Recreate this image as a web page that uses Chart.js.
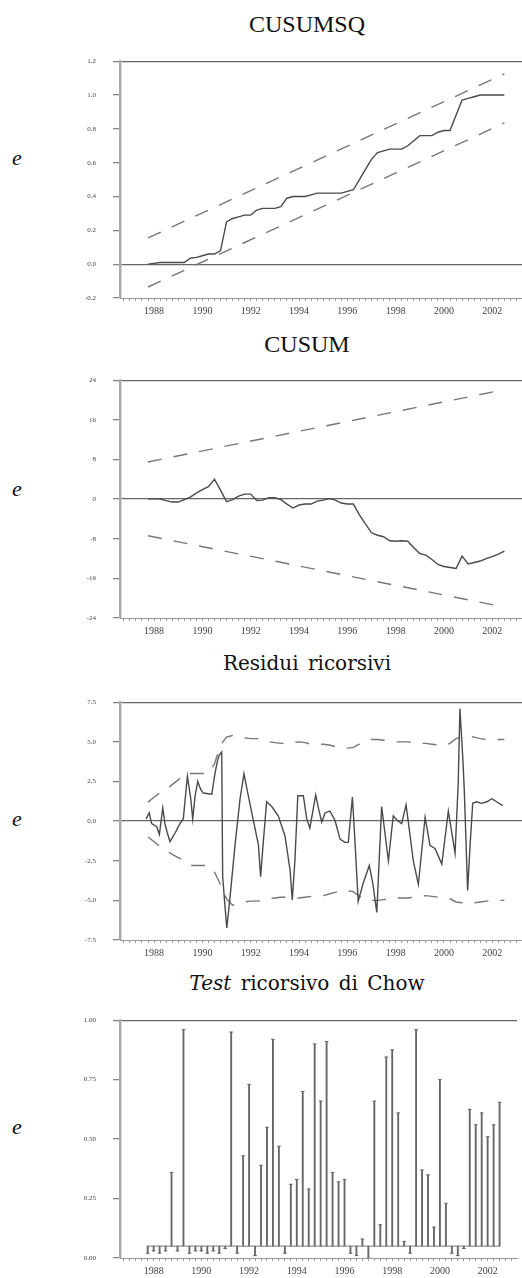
<!DOCTYPE html>
<html>
<head>
<meta charset="utf-8">
<script src="https://cdn.jsdelivr.net/npm/chart.js@4.4.1/dist/chart.umd.min.js"></script>
<style>
  body { margin: 0; width: 522px; height: 1278px; overflow: hidden; background: #fff; position: relative; }
  canvas { position: absolute; left: 0; }
  .title { position: absolute; left: 107px; width: 400px; text-align: center; color: #111; white-space: pre; }
  .t1 { font: 24px/24px "Liberation Serif", serif; }
  .t2 { font: 20px/20px "DejaVu Serif", serif; word-spacing: 3px; }
  .mark { position: absolute; left: 12px; font: italic 22px/22px "Liberation Serif", serif; color: #111; }
</style>
</head>
<body>
<div class="title t1" style="top:12px">CUSUMSQ</div>
<div class="title t1" style="top:332px">CUSUM</div>
<div class="title t2" style="top:653px">Residui ricorsivi</div>
<div class="title t2" style="top:973px"><i>Test</i> ricorsivo di Chow</div>
<div class="mark" style="top:147px">e</div>
<div class="mark" style="top:478px">e</div>
<div class="mark" style="top:808px">e</div>
<div class="mark" style="top:1116px">e</div>

<canvas id="c1" width="522" height="288" style="top:40px"></canvas>
<canvas id="c2" width="522" height="289" style="top:359px"></canvas>
<canvas id="c3" width="522" height="289" style="top:681px"></canvas>
<canvas id="c4" width="522" height="289" style="top:999px"></canvas>

<script>
// quarterly observations 1987Q4 - 2002Q3
const quarters = []
for (let q = 1987.75 * 4; q <= 2002.5 * 4; q++) quarters.push(q / 4)

const cusumsq = [0.00, 0.005, 0.01, 0.01, 0.01, 0.01, 0.01, 0.035, 0.04, 0.05,
  0.06, 0.06, 0.08, 0.25, 0.27, 0.28, 0.29, 0.29, 0.32, 0.33,
  0.33, 0.33, 0.34, 0.39, 0.40, 0.40, 0.40, 0.41, 0.42, 0.42,
  0.42, 0.42, 0.42, 0.43, 0.44, 0.50, 0.56, 0.62, 0.66, 0.67,
  0.68, 0.68, 0.68, 0.70, 0.73, 0.76, 0.76, 0.76, 0.78, 0.79,
  0.79, 0.88, 0.97, 0.98, 0.99, 1.00, 1.00, 1.00, 1.00, 1.00]

const cusum = [0, 0.1, 0, -0.3, -0.6, -0.6, -0.1, 0.4, 1.2, 1.9,
  2.5, 4.0, 1.8, -0.5, -0.1, 0.6, 1.0, 1.0, -0.3, -0.2,
  0.3, 0.3, -0.1, -1.0, -1.8, -1.2, -1.0, -1.0, -0.4, -0.2,
  0.1, -0.2, -0.8, -1.0, -1.0, -3.2, -5.0, -6.8, -7.3, -7.6,
  -8.4, -8.5, -8.4, -8.5, -9.8, -11.0, -11.3, -12.2, -13.2, -13.6,
  -13.8, -14.0, -11.5, -13.1, -12.8, -12.5, -12.0, -11.6, -11.1, -10.5]

// 5% bands, straight lines between first and last quarter
const bandDates = [1987.75, 2002.5]
const cusumsqUpper = [0.155, 1.125]
const cusumsqLower = [-0.135, 0.835]
const cusumUpper = [7.5, 22.1]
const cusumLower = [-7.4, -21.8]

const resDates = [1987.67, 1987.80, 1987.90, 1988.11, 1988.22, 1988.36, 1988.45, 1988.55, 1988.66, 1988.87,
  1989.07, 1989.21, 1989.38, 1989.52, 1989.60, 1989.70, 1989.81, 1989.93, 1990.04, 1990.39,
  1990.52, 1990.62, 1990.70, 1990.80, 1990.84, 1990.94, 1991.01, 1991.14, 1991.35, 1991.56,
  1991.72, 1991.90, 1992.11, 1992.32, 1992.41, 1992.52, 1992.66, 1992.87, 1993.14, 1993.42,
  1993.63, 1993.72, 1993.83, 1993.95, 1994.18, 1994.32, 1994.45, 1994.69, 1994.80, 1994.94,
  1995.08, 1995.28, 1995.49, 1995.70, 1995.90, 1996.04, 1996.21, 1996.29, 1996.45, 1996.66,
  1996.91, 1997.05, 1997.22, 1997.42, 1997.70, 1997.90, 1998.07, 1998.25, 1998.43, 1998.52,
  1998.73, 1998.94, 1999.22, 1999.42, 1999.63, 1999.91, 2000.18, 2000.46, 2000.59, 2000.66,
  2000.78, 2000.84, 2000.98, 2001.08, 2001.19, 2001.35, 2001.56, 2001.77, 2001.98, 2002.18,
  2002.43]
const resValues = [0.14, 0.53, -0.16, -0.35, -0.84, 0.83, -0.16, -0.75, -1.3, -0.75,
  -0.16, 0.14, 2.83, 1.4, 0.14, 1.6, 2.5, 2.0, 1.77, 1.7,
  3.0, 3.77, 4.16, 4.36, -3.5, -5.46, -6.74, -4.87, -1.53, 1.41,
  2.99, 1.6, 0.04, -1.5, -3.5, -1.34, 1.22, 0.92, 0.33, -0.94,
  -3.1, -4.97, -2.5, 1.6, 1.6, 0.14, -0.45, 1.65, 0.83, -0.06,
  0.53, 0.63, 0.04, -1.14, -1.34, -1.34, 1.51, -0.55, -5.07, -3.9,
  -2.8, -3.9, -5.76, 0.92, -2.5, 0.33, 0.04, -0.16, 1.02, 0.0,
  -2.5, -3.99, 0.24, -1.53, -1.73, -2.71, 0.63, -2.02, 2.4, 7.1,
  3.97, 2.0, -4.38, -1.53, 1.12, 1.22, 1.12, 1.22, 1.41, 1.22,
  0.98]

// +/- 2 s.e. around the recursive residuals
const resUpper = [1.2, 1.5, 1.8, 2.0, 2.3, 2.6, 3.0, 3.0, 3.0, 3.0,
  3.0, 3.6, 4.8, 5.3, 5.4, 5.3, 5.25, 5.2, 5.2, 5.2,
  5.0, 4.95, 4.9, 4.9, 4.95, 5.0, 4.95, 4.85, 4.85, 4.85,
  4.8, 4.7, 4.6, 4.6, 4.65, 4.85, 5.05, 5.15, 5.15, 5.1,
  5.05, 5.0, 5.0, 5.0, 4.95, 4.9, 4.9, 4.85, 4.8, 4.75,
  4.9, 5.2, 5.35, 5.35, 5.3, 5.2, 5.15, 5.15, 5.15, 5.15]
const resLower = [-1.0, -1.3, -1.6, -1.85, -2.1, -2.3, -2.5, -2.8, -2.8, -2.8,
  -2.8, -3.2, -4.0, -4.9, -5.3, -5.2, -5.1, -5.05, -5.05, -5.0,
  -4.9, -4.85, -4.8, -4.8, -4.85, -4.85, -4.8, -4.75, -4.75, -4.7,
  -4.6, -4.5, -4.4, -4.4, -4.45, -4.75, -4.95, -5.0, -5.0, -4.95,
  -4.9, -4.85, -4.85, -4.85, -4.8, -4.75, -4.7, -4.75, -4.8, -4.8,
  -4.9, -5.1, -5.15, -5.2, -5.15, -5.1, -5.05, -5.0, -5.0, -5.0]

// recursive Chow test probabilities, drawn from the 5% line
const chowLevel = 0.05
const chowProb = [0.02, 0.03, 0.02, 0.03, 0.36, 0.03, 0.96, 0.02, 0.03, 0.03,
  0.02, 0.03, 0.02, 0.04, 0.95, 0.02, 0.43, 0.73, 0.01, 0.39,
  0.55, 0.92, 0.47, 0.02, 0.31, 0.33, 0.70, 0.29, 0.90, 0.66,
  0.91, 0.36, 0.32, 0.33, 0.02, 0.01, 0.08, 0.00, 0.66, 0.14,
  0.845, 0.875, 0.61, 0.07, 0.02, 0.96, 0.37, 0.35, 0.13, 0.75,
  0.23, 0.02, 0.01, 0.04, 0.625, 0.56, 0.61, 0.51, 0.56, 0.655]

// axis tick positions: one per quarter
const tickYears = []
for (let q = 1986.75 * 4; q <= 2003 * 4; q++) tickYears.push(q / 4)

const LINE = '#4a4a4a'
const DASH = '#777'

function pts(xs, ys) {
  return xs.map((x, i) => ({ x: x, y: ys[i] }))
}

function xAxis() {
  return {
    type: 'linear',
    min: 1986.59,
    max: 2003.23,
    offset: false,
    afterBuildTicks: s => { s.ticks = tickYears.map(v => ({ value: v })) },
    ticks: {
      autoSkip: false,
      maxRotation: 0,
      padding: 4,
      color: '#444',
      font: { family: 'Liberation Serif', size: 10 },
      callback: v => (Number.isInteger(v) && v % 2 === 0) ? String(v) : ''
    },
    grid: { drawOnChartArea: false, offset: false, tickLength: 3, tickColor: '#999' },
    border: { color: '#999', width: 1 },
    afterFit: s => { s.height = 30 }
  }
}

function yAxis(min, max, step, digits, lines) {
  return {
    min: min,
    max: max,
    ticks: {
      stepSize: step,
      padding: 17,
      color: '#444',
      font: { family: 'Liberation Serif', size: 7 },
      callback: v => (Math.abs(v) < 1e-9 ? 0 : v).toFixed(digits)
    },
    grid: {
      tickLength: 7,
      tickColor: '#888',
      lineWidth: 1.3,
      color: c => lines.some(l => Math.abs(c.tick.value - l) < 1e-6) ? '#666' : 'rgba(0,0,0,0)'
    },
    border: { color: '#aaa', width: 2.5 },
    afterFit: s => { s.width = 120 }
  }
}

function solid(data) {
  return { data: data, borderColor: LINE, borderWidth: 1.4, pointRadius: 0, tension: 0 }
}
function dashed(data) {
  return { data: data, borderColor: DASH, borderWidth: 1.4, borderDash: [14, 12], pointRadius: 0, tension: 0 }
}

const common = {
  responsive: false,
  animation: false,
  devicePixelRatio: 1,
  layout: { padding: { top: 6, left: 0, right: 0, bottom: 0 } },
  plugins: { legend: { display: false }, tooltip: { enabled: false } }
}

new Chart(document.getElementById('c1'), {
  type: 'line',
  data: {
    datasets: [
      solid(pts(quarters, cusumsq)),
      dashed(pts(bandDates, cusumsqUpper)),
      dashed(pts(bandDates, cusumsqLower))
    ]
  },
  options: Object.assign({}, common, {
    scales: { x: xAxis(), y: yAxis(-0.2, 1.2, 0.2, 1, [0, 1.2]) }
  })
})

new Chart(document.getElementById('c2'), {
  type: 'line',
  data: {
    datasets: [
      solid(pts(quarters, cusum)),
      dashed(pts(bandDates, cusumUpper)),
      dashed(pts(bandDates, cusumLower))
    ]
  },
  options: Object.assign({}, common, {
    scales: { x: xAxis(), y: yAxis(-24, 24, 8, 0, [0, 24]) }
  })
})

new Chart(document.getElementById('c3'), {
  type: 'line',
  data: {
    datasets: [
      solid(pts(resDates, resValues)),
      dashed(pts(quarters, resUpper)),
      dashed(pts(quarters, resLower))
    ]
  },
  options: Object.assign({}, common, {
    scales: { x: xAxis(), y: yAxis(-7.5, 7.5, 2.5, 1, [0, 7.5]) }
  })
})

new Chart(document.getElementById('c4'), {
  type: 'bar',
  data: {
    datasets: [
      {
        type: 'line',
        data: pts(bandDates, [chowLevel, chowLevel]),
        borderColor: '#777',
        borderWidth: 1,
        pointRadius: 0
      },
      {
        // small cap on each spike
        type: 'line',
        data: pts(quarters, chowProb),
        showLine: false,
        pointStyle: 'line',
        pointRadius: 1.8,
        borderColor: '#666',
        borderWidth: 1
      },
      {
        type: 'bar',
        data: quarters.map((q, i) => ({ x: q, y: [chowLevel, chowProb[i]] })),
        backgroundColor: '#666',
        borderWidth: 0,
        barThickness: 1.2
      }
    ]
  },
  options: Object.assign({}, common, {
    scales: { x: xAxis(), y: yAxis(0, 1, 0.25, 2, [1]) }
  })
})
</script>
</body>
</html>
